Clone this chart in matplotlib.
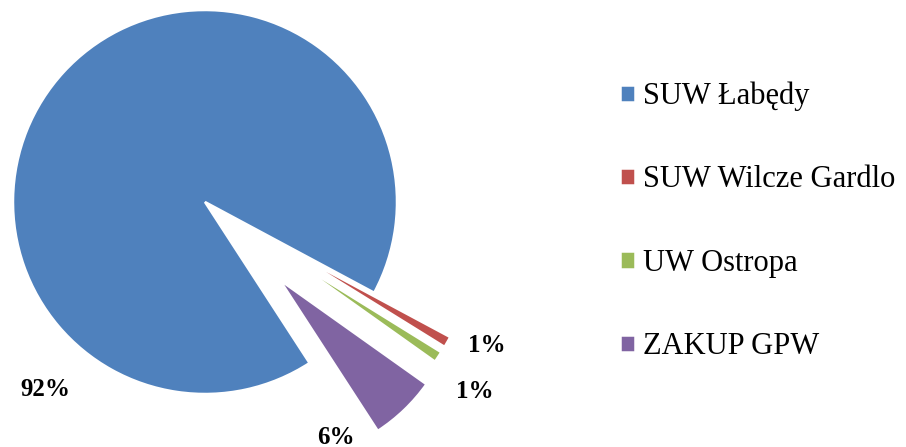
import matplotlib.pyplot as plt

# data
names = ["SUW Łabędy", "SUW Wilcze Gardlo", "UW Ostropa", "ZAKUP GPW"]
shares = [92, 1, 1, 6]
colors = ["#4F81BD", "#C0504D", "#9BBB59", "#8064A2"]
pct_labels = ["92%", "1%", "1%", "6%"]

plt.rcParams['font.family'] = ['Liberation Serif', 'DejaVu Serif']

fig = plt.figure(figsize=(9.06, 4.47), dpi=100)
ax = fig.add_axes([0, 0, 1, 1])

# axes in pixel units, pie centre and radius in pixels
cx, cy, r = 205, 245, 192
wedges, _ = ax.pie(shares, colors=colors, startangle=-57, counterclock=False,
                   center=(cx, cy), radius=r, explode=[0, 100, 100, 108],
                   wedgeprops=dict(edgecolor='white', linewidth=1.8))
# the exploded small slices are drawn a little smaller
for w in wedges[1:]:
    w.set_radius(180)
ax.set_xlim(0, 906)
ax.set_ylim(0, 447)
ax.axis('off')

# percent labels as placed in the original
label_pos = [(45, 57), (487, 101), (475, 56), (336, 10)]
for txt, (x, y) in zip(pct_labels, label_pos):
    ax.text(x, y, txt, ha='center', va='center', fontsize=18, fontweight='bold')

leg = ax.legend(wedges, names, loc='upper left', bbox_to_anchor=(0.671, 0.845),
                frameon=False, fontsize=22, handlelength=0.49, handleheight=0.49,
                handletextpad=0.25, labelspacing=1.78, borderaxespad=0)

fig.savefig('out.png', dpi=100)
